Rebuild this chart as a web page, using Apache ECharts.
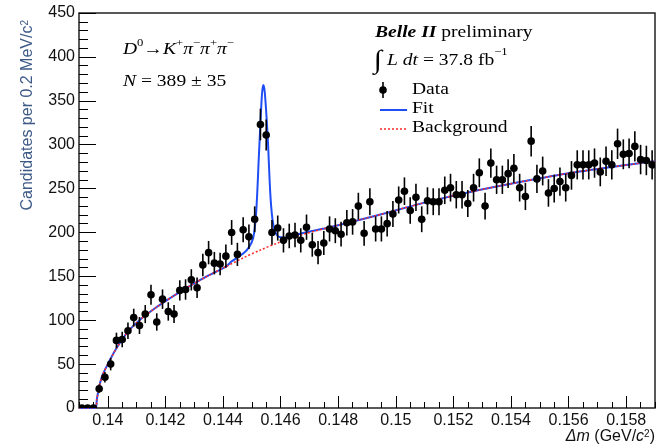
<!DOCTYPE html>
<html><head><meta charset="utf-8">
<script src="https://cdn.jsdelivr.net/npm/echarts@6/dist/echarts.min.js"></script>
<style>html,body{margin:0;padding:0;background:#fff}#c{width:666px;height:444px}</style>
</head><body><div id="c"></div>
<script>
// Histogram binning (Δm, GeV/c^2)
const binStart = 0.139;
const binWidth = 0.0002;
// Candidates per bin
const counts = [0,0,0,22,35,50,77,78,88,103,
  94,107,129,98,124,110,107,134,135,146,
  137,163,177,165,164,173,200,175,203,195,
  215,323,311,200,205,191,196,197,191,206,
  186,177,188,204,202,198,211,212,230,199,
  235,204,204,210,221,237,247,225,240,215,
  236,235,235,248,251,243,243,233,251,268,
  230,279,260,260,267,273,251,241,304,261,
  270,245,250,258,251,265,277,277,277,279,
  269,281,277,301,289,290,298,283,282,277];
// Error bar half-lengths
const errors = [0,0,0,4.7,5.9,7.1,8.8,8.8,9.4,10.1,
  9.7,10.3,11.4,9.9,11.1,10.5,10.3,11.6,11.6,12.1,
  11.7,12.8,13.3,12.8,12.8,13.2,14.1,13.2,14.2,14.0,
  14.7,18.0,17.6,14.1,14.3,13.8,14.0,14.0,13.8,14.4,
  13.6,13.3,13.7,14.3,14.2,14.1,14.5,14.6,15.2,14.1,
  15.3,14.3,14.3,14.5,14.9,15.4,15.7,15.0,15.5,14.7,
  15.4,15.3,15.3,15.7,15.8,15.6,15.6,15.3,15.8,16.4,
  15.2,16.7,16.1,16.1,16.3,16.5,15.8,15.5,17.4,16.2,
  16.4,15.7,15.8,16.1,15.8,16.3,16.6,16.6,16.6,16.7,
  16.4,16.8,16.6,17.3,17.0,17.0,17.3,16.8,16.8,16.6];
// Background curve samples
const bgX = [0.139,0.13957,0.13962,0.1397,0.1398,0.1400,0.1403,0.1407,0.1411,0.1417,0.1423,0.1429,0.1435,0.1441,0.1447,0.1453,0.1459,0.1467,0.1476,0.1493,0.1510,0.1527,0.1544,0.1561,0.1578,0.1590];
const bgY = [0,0,10,24,36,50,68,87,100,115,128,140,151,161,171,180,188,197,205,219,234,247,258,268,276,281];
// Total fit curve samples
const fitX = [0.139,0.13957,0.13962,0.1397,0.1398,0.1400,0.1403,0.1407,0.1411,0.1417,0.1423,0.1429,0.1435,0.1441,0.1443,0.1447,0.1449,0.14505,0.14515,0.14525,0.14535,0.1454,0.14545,0.14555,0.14565,0.14575,0.1459,0.1462,0.1465,0.1470,0.1476,0.1493,0.1510,0.1527,0.1544,0.1561,0.1578,0.1590];
const fitY = [0,0,10,24,36,50,68,87,100,115,128,140,151,161,167,176,183,194,222,290,356,368,360,310,240,208,196,194,197,201,205,219,234,247,258,268,276,281];
// Axis tick labels
const xMajorTicks = [0.14,0.142,0.144,0.146,0.148,0.15,0.152,0.154,0.156,0.158];

const SANS = '"Liberation Sans", Arial, Helvetica, sans-serif';
const SERIF = '"Liberation Serif", "Times New Roman", serif';

const chart = echarts.init(document.getElementById('c'), null, {renderer: 'canvas'});
const dataPts = counts.map((c, i) => [binStart + (i + 0.5) * binWidth, c, errors[i]]);

const serifRich = {
  n: {fontFamily: SERIF, fontSize: 17, color: '#000', lineHeight: 24},
  i: {fontFamily: SERIF, fontSize: 17, fontStyle: 'italic', color: '#000', lineHeight: 24},
  b: {fontFamily: SERIF, fontSize: 17, fontStyle: 'italic', fontWeight: 'bold', color: '#000', lineHeight: 24},
  s: {fontFamily: SERIF, fontSize: 11, color: '#000', verticalAlign: 'top', lineHeight: 13},
  int: {fontFamily: SERIF, fontSize: 26, color: '#000', lineHeight: 28}
};
function serifText(x, y, text) {
  return {type: 'text', x: x, y: y, scaleX: 1.15, z: 10,
    style: {text: text, rich: serifRich, textAlign: 'left', textVerticalAlign: 'middle', fill: '#000', fontFamily: SERIF, fontSize: 17}};
}

chart.setOption({
  animation: false,
  backgroundColor: '#fff',
  grid: {left: 79, right: 11, top: 13, bottom: 36, show: true, borderColor: '#222', borderWidth: 1.5, backgroundColor: 'transparent'},
  xAxis: [{
    type: 'value', min: 0.139, max: 0.159, interval: 0.0005,
    axisLine: {show: false},
    axisTick: {show: true, inside: true, length: 6, lineStyle: {color: '#000', width: 1}},
    splitLine: {show: false},
    axisLabel: {customValues: xMajorTicks, margin: 5, fontSize: 16, fontFamily: SANS, color: '#111',
      formatter: v => String(parseFloat(Number(v).toFixed(3)))}
  }, {
    type: 'value', min: 0.139, max: 0.159, interval: 0.0005, position: 'bottom', offset: 0,
    axisLine: {show: false},
    axisTick: {show: true, inside: true, length: 12, customValues: xMajorTicks, lineStyle: {color: '#000', width: 1}},
    splitLine: {show: false},
    axisLabel: {show: false}
  }],
  yAxis: {
    type: 'value', min: 0, max: 450, interval: 50,
    axisLine: {show: false},
    axisTick: {show: true, inside: true, length: 17, lineStyle: {color: '#000', width: 1}},
    minorTick: {show: true, splitNumber: 5, length: 9, lineStyle: {color: '#000', width: 1}},
    splitLine: {show: false}, minorSplitLine: {show: false},
    axisLabel: {margin: 4, fontSize: 16, fontFamily: SANS, color: '#111'}
  },
  series: [{
    name: 'Fit', type: 'line', data: fitX.map((x, i) => [x, fitY[i]]),
    showSymbol: false, smooth: 0.3, clip: true, z: 2,
    lineStyle: {color: '#1f4ef5', width: 2}
  }, {
    name: 'Background', type: 'line', data: bgX.map((x, i) => [x, bgY[i]]),
    showSymbol: false, smooth: 0.3, clip: true, z: 3,
    lineStyle: {color: '#ff2a2a', width: 1.5, type: [2, 2]}
  }, {
    name: 'Data', type: 'custom', data: dataPts, clip: true, z: 4,
    encode: {x: 0, y: 1},
    renderItem: function (params, api) {
      const x = api.value(0), y = api.value(1), e = api.value(2);
      const p = api.coord([x, y]);
      const lo = api.coord([x, y - e]);
      const hi = api.coord([x, y + e]);
      return {type: 'group', children: [
        {type: 'line', shape: {x1: p[0], y1: lo[1], x2: p[0], y2: hi[1]}, style: {stroke: '#000', lineWidth: 1.6}},
        {type: 'circle', shape: {cx: p[0], cy: p[1], r: 3.8}, style: {fill: '#000'}}
      ]};
    }
  }],
  graphic: [
    {type: 'text', x: 28, y: 20, rotation: Math.PI / 2, z: 10,
      style: {text: 'Candidates per 0.2 MeV/c{s|2}', textAlign: 'right', textVerticalAlign: 'middle',
        fontFamily: SANS, fontSize: 16, fill: '#3d5a87',
        rich: {s: {fontFamily: SANS, fontSize: 10, fill: '#3d5a87', verticalAlign: 'top'}}}},
    {type: 'text', x: 655, y: 437, z: 10,
      style: {text: '{i|Δm} (GeV/{i|c}{s|2})', textAlign: 'right', textVerticalAlign: 'middle',
        fontFamily: SANS, fontSize: 16, fill: '#111',
        rich: {i: {fontFamily: SANS, fontSize: 16, fontStyle: 'italic', fill: '#111'},
               s: {fontFamily: SANS, fontSize: 10, fill: '#111', verticalAlign: 'top'}}}},
    serifText(123, 50, '{i|D}{s|0}{n|→}{i|K}{s|+}{i|π}{s|−}{i|π}{s|+}{i|π}{s|−}'),
    serifText(123, 82, '{i|N}{n| = 389 ± 35}'),
    serifText(375, 33, '{b|Belle II}{n| preliminary}'),
    serifText(374, 61, '{int|∫}{i| L dt}{n| = 37.8 fb}{s|−1}'),
    serifText(412, 90, '{n|Data}'),
    serifText(412, 109, '{n|Fit}'),
    serifText(412, 128, '{n|Background}'),
    {type: 'line', shape: {x1: 383, y1: 82, x2: 383, y2: 98}, style: {stroke: '#000', lineWidth: 1.6}, z: 10},
    {type: 'circle', shape: {cx: 383, cy: 90, r: 3.8}, style: {fill: '#000'}, z: 10},
    {type: 'line', shape: {x1: 380, y1: 110, x2: 407, y2: 110}, style: {stroke: '#1f4ef5', lineWidth: 2}, z: 10},
    {type: 'line', shape: {x1: 380, y1: 129, x2: 407, y2: 129}, style: {stroke: '#ff2a2a', lineWidth: 1.5, lineDash: [2, 2]}, z: 10}
  ]
});
</script>
</body></html>
